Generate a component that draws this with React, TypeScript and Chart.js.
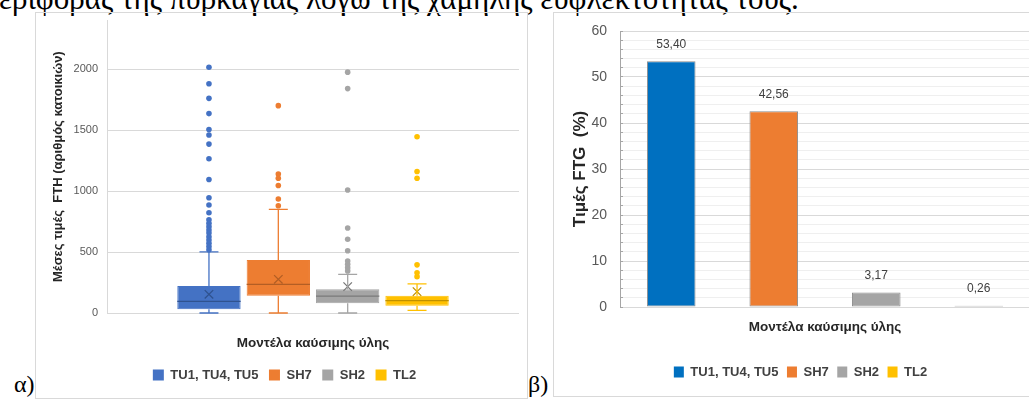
import React, { useEffect, useRef } from 'react';
import { Chart, registerables } from 'chart.js';

Chart.register(...registerables);

// ---------- shared ----------
const fuelModels = ['TU1, TU4, TU5', 'SH7', 'SH2', 'TL2'];

// ---------- panel α : box plot of FTH ----------
const fthWhiskerLow = [0, 0, 0, 22];
const fthQ1 = [30, 142, 79, 60];
const fthMedian = [96, 235, 139, 101];
const fthQ3 = [221, 434, 194, 142];
const fthWhiskerHigh = [502, 850, 317, 238];
const fthMean = [153, 276, 216, 175];
const fthOutliersTU = [2015, 1880, 1760, 1635, 1505, 1460, 1385, 1265, 1095, 945, 885, 822, 765, 735, 708, 680, 655, 625, 598, 572, 545, 518];
const fthOutliersSH7 = [1700, 1140, 1105, 1045, 935, 880];
const fthOutliersSH2 = [1975, 1840, 1008, 697, 605, 511, 426, 399, 372, 345];
const fthOutliersTL2 = [1445, 1160, 1105, 395, 330, 298];
const fthOutliers = [fthOutliersTU, fthOutliersSH7, fthOutliersSH2, fthOutliersTL2];
const fthTicks = [0, 500, 1000, 1500, 2000];
const fthAxisMax = 2400;

// ---------- panel β : bar chart of FTG ----------
const ftgValues = [53.4, 42.56, 3.17, 0.26];
const ftgAxisMax = 60;
const ftgMinorStep = 2;
const ftgMajorStep = 10;

const boxColors = ['#4472C4', '#ED7D31', '#A5A5A5', '#FFC000'];
const boxDark = ['#2F528F', '#B35E24', '#7A7A7A', '#BF9000'];
const barColors = ['#0070C0', '#ED7D31', '#A5A5A5', '#FFC000'];

const FONT = '"Liberation Sans", Arial, sans-serif';

export default function App() {
  const leftRef = useRef<HTMLCanvasElement>(null);
  const rightRef = useRef<HTMLCanvasElement>(null);

  useEffect(() => {
    const boxLines = {
      id: 'boxLines',
      afterDatasetsDraw(chart: any) {
        const ctx = chart.ctx;
        const ys = chart.scales.y;
        fuelModels.forEach((_, i) => {
          const bar = chart.getDatasetMeta(i).data[0];
          if (!bar) return;
          const { x, width } = bar.getProps(['x', 'width'], true);
          const cap = width * 0.15;
          const yHi = ys.getPixelForValue(fthWhiskerHigh[i]);
          const yLo = ys.getPixelForValue(fthWhiskerLow[i]);
          const yQ1 = ys.getPixelForValue(fthQ1[i]);
          const yQ3 = ys.getPixelForValue(fthQ3[i]);
          const yMed = ys.getPixelForValue(fthMedian[i]);
          ctx.save();
          ctx.strokeStyle = boxColors[i];
          ctx.lineWidth = 1.3;
          ctx.beginPath();
          ctx.moveTo(x, yQ3); ctx.lineTo(x, yHi);
          ctx.moveTo(x - cap, yHi); ctx.lineTo(x + cap, yHi);
          ctx.moveTo(x, yQ1); ctx.lineTo(x, yLo);
          ctx.moveTo(x - cap, yLo); ctx.lineTo(x + cap, yLo);
          ctx.stroke();
          ctx.strokeStyle = boxDark[i];
          ctx.lineWidth = 1.2;
          ctx.beginPath();
          ctx.moveTo(x - width / 2, yMed); ctx.lineTo(x + width / 2, yMed);
          ctx.stroke();
          ctx.restore();
        });
      },
    };

    const left = new Chart(leftRef.current!, {
      type: 'bar',
      data: {
        datasets: [
          ...fuelModels.map((name, i) => ({
            type: 'bar',
            label: name,
            data: [{ x: i + 1, y: [fthQ1[i], fthQ3[i]] }],
            backgroundColor: boxColors[i],
            borderColor: boxColors[i],
            borderWidth: 1,
            borderSkipped: false,
            grouped: false,
            categoryPercentage: 1,
            barPercentage: 0.913,
            order: 3,
          })),
          ...fuelModels.map((name, i) => ({
            type: 'scatter',
            label: name + ' outliers',
            data: fthOutliers[i].map((v) => ({ x: i + 1, y: v })),
            backgroundColor: boxColors[i],
            borderWidth: 0,
            pointRadius: 2.8,
            order: 2,
          })),
          ...fuelModels.map((name, i) => ({
            type: 'scatter',
            label: name + ' mean',
            data: [{ x: i + 1, y: fthMean[i] }],
            pointStyle: 'crossRot',
            pointRadius: 6,
            borderColor: boxDark[i],
            borderWidth: 1.3,
            order: 1,
          })),
        ],
      } as any,
      options: {
        responsive: false,
        animation: false,
        events: [],
        layout: { padding: { top: 7, right: 8, bottom: 6.5, left: 14 } },
        scales: {
          x: {
            type: 'linear',
            min: -0.47,
            max: 5.47,
            offset: false,
            ticks: { display: false },
            grid: { display: false },
            border: { display: false },
            afterBuildTicks: (s: any) => {
              s.ticks = fuelModels.map((_, i) => ({ value: i + 1 }));
            },
            afterFit: (s: any) => {
              s.height = 45;
              s.paddingLeft = 0;
              s.paddingRight = 0;
            },
            title: {
              display: true,
              text: 'Μοντέλα καύσιμης ύλης',
              color: '#262626',
              font: { family: FONT, size: 13.5, weight: 'bold' },
              padding: { top: 0, bottom: 6.9 },
            },
          },
          y: {
            type: 'linear',
            min: 0,
            max: fthAxisMax,
            ticks: {
              autoSkip: false,
              color: '#595959',
              font: { family: FONT, size: 11 },
              padding: 9,
              callback: (v: any) => String(v),
            },
            afterBuildTicks: (s: any) => {
              s.ticks = fthTicks.map((v) => ({ value: v }));
            },
            afterFit: (s: any) => {
              s.width = 57;
              s.paddingTop = 0;
              s.paddingBottom = 0;
            },
            grid: { color: '#D9D9D9', drawTicks: false, lineWidth: 1 },
            border: { display: true, color: '#D9D9D9' },
            title: {
              display: true,
              text: 'Μέσες τιμές  FTH (αριθμός κατοικιών)',
              color: '#262626',
              font: { family: FONT, size: 13, weight: 'bold' },
              padding: { top: 0.2, bottom: 0 },
            },
          },
        },
        plugins: {
          legend: {
            position: 'bottom',
            labels: {
              boxWidth: 11,
              boxHeight: 11,
              padding: 10.5,
              color: '#404040',
              font: { family: FONT, size: 13, weight: 'bold' },
              generateLabels: () =>
                fuelModels.map((name, i) => ({
                  text: name,
                  fillStyle: boxColors[i],
                  strokeStyle: boxColors[i],
                  lineWidth: 0,
                  hidden: false,
                  datasetIndex: i,
                  fontColor: '#404040',
                })),
            },
          },
          tooltip: { enabled: false },
        },
      } as any,
      plugins: [boxLines],
    });

    const valueLabels = {
      id: 'valueLabels',
      afterDatasetsDraw(chart: any) {
        const ctx = chart.ctx;
        ctx.save();
        ctx.font = `12px ${FONT}`;
        ctx.fillStyle = '#404040';
        ctx.textAlign = 'center';
        ctx.textBaseline = 'middle';
        ftgValues.forEach((v, i) => {
          const el = chart.getDatasetMeta(i).data[i];
          if (!el) return;
          ctx.fillText(v.toFixed(2).replace('.', ','), el.x, el.y - 17);
        });
        ctx.restore();
      },
    };

    const right = new Chart(rightRef.current!, {
      type: 'bar',
      data: {
        labels: fuelModels,
        datasets: fuelModels.map((name, i) => ({
          label: name,
          data: fuelModels.map((_, j) => (j === i ? ftgValues[i] : null)),
          backgroundColor: barColors[i],
          borderColor: '#8F8F8F',
          borderWidth: 1,
          borderSkipped: false,
          skipNull: true,
          categoryPercentage: 1,
          barPercentage: 0.474,
        })),
      },
      options: {
        responsive: false,
        animation: false,
        events: [],
        layout: { padding: { top: 18, right: 18, bottom: 7.5, left: 17 } },
        scales: {
          x: {
            type: 'category',
            ticks: { display: false },
            grid: { display: false },
            border: { display: false },
            afterFit: (s: any) => {
              s.height = 50;
              s.paddingLeft = 0;
              s.paddingRight = 0;
            },
            title: {
              display: true,
              text: 'Μοντέλα καύσιμης ύλης',
              color: '#262626',
              font: { family: FONT, size: 13.5, weight: 'bold' },
              padding: { top: 0, bottom: 21.9 },
            },
          },
          y: {
            type: 'linear',
            min: 0,
            max: ftgAxisMax,
            ticks: {
              autoSkip: false,
              color: '#595959',
              font: { family: FONT, size: 14 },
              padding: 16,
              callback: (v: any) => (Number(v) % ftgMajorStep === 0 ? String(v) : ''),
            },
            afterBuildTicks: (s: any) => {
              const t: any[] = [];
              for (let v = 0; v <= ftgAxisMax; v += ftgMinorStep) t.push({ value: v });
              s.ticks = t;
            },
            afterFit: (s: any) => {
              s.width = 49;
              s.paddingTop = 0;
              s.paddingBottom = 0;
            },
            grid: {
              color: (c: any) => (c.tick && c.tick.value % ftgMajorStep === 0 ? '#D9D9D9' : '#EFEFEF'),
              tickLength: -3,
              tickColor: '#A6A6A6',
              lineWidth: 1,
            },
            border: { display: true, color: '#A6A6A6' },
            title: {
              display: true,
              text: 'Τιμές FTG  (%)',
              color: '#262626',
              font: { family: FONT, size: 17, weight: 'bold', lineHeight: 1 },
              padding: { top: 0.5, bottom: 0 },
            },
          },
        },
        plugins: {
          legend: {
            position: 'bottom',
            labels: {
              boxWidth: 10,
              boxHeight: 11,
              padding: 8.5,
              color: '#404040',
              font: { family: FONT, size: 13, weight: 'bold' },
              generateLabels: () =>
                fuelModels.map((name, i) => ({
                  text: name,
                  fillStyle: barColors[i],
                  strokeStyle: barColors[i],
                  lineWidth: 0,
                  hidden: false,
                  datasetIndex: i,
                  fontColor: '#404040',
                })),
            },
          },
          tooltip: { enabled: false },
        },
      } as any,
      plugins: [valueLabels],
    });

    return () => {
      left.destroy();
      right.destroy();
    };
  }, []);

  const serif = '"Liberation Serif", "DejaVu Serif", serif';

  return (
    <div
      style={{
        position: 'absolute',
        left: 0,
        top: 0,
        width: 1029,
        height: 401,
        overflow: 'hidden',
        background: '#ffffff',
      }}
    >
      <div
        style={{
          position: 'absolute',
          left: -1,
          top: -17,
          fontFamily: serif,
          fontSize: 31,
          lineHeight: '31px',
          whiteSpace: 'nowrap',
          color: '#000',
        }}
      >
        εριφοράς της πυρκαγιάς λόγω της χαμηλής ευφλεκτότητας τους.
      </div>
      <div
        style={{
          position: 'absolute',
          left: 35,
          top: 12,
          width: 491,
          height: 385,
          border: '1px solid #D9D9D9',
        }}
      >
        <canvas ref={leftRef} width={491} height={385} style={{ display: 'block' }} />
      </div>
      <div
        style={{
          position: 'absolute',
          left: 553,
          top: 12,
          width: 494,
          height: 383,
          border: '1px solid #D9D9D9',
        }}
      >
        <canvas ref={rightRef} width={494} height={383} style={{ display: 'block' }} />
      </div>
      <div
        style={{
          position: 'absolute',
          left: 14,
          top: 372,
          fontFamily: serif,
          fontSize: 24,
          lineHeight: '24px',
          color: '#000',
        }}
      >
        α)
      </div>
      <div
        style={{
          position: 'absolute',
          left: 528,
          top: 372,
          fontFamily: serif,
          fontSize: 24,
          lineHeight: '24px',
          color: '#000',
        }}
      >
        β)
      </div>
    </div>
  );
}
